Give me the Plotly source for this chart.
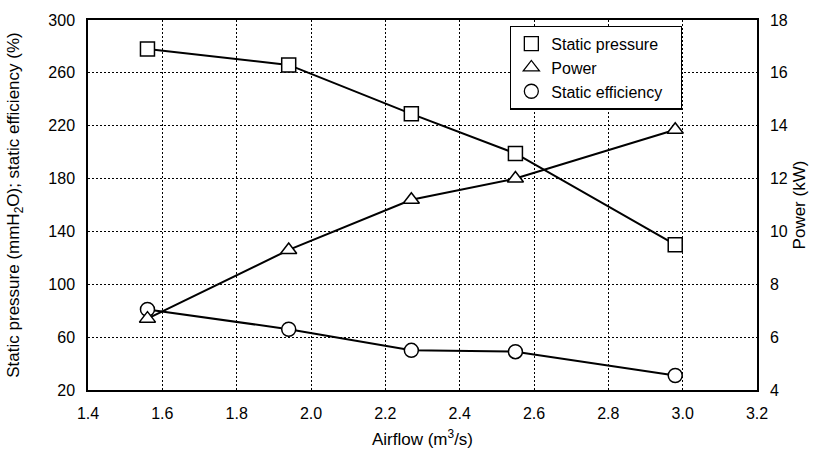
import plotly.graph_objects as go

# Fan performance curve data
airflow = [1.56, 1.94, 2.27, 2.55, 2.98]            # m3/s
static_pressure = [278, 266, 229, 199, 130]         # mmH2O
static_efficiency = [81, 66, 50, 49, 31]            # %
power_kw = [6.7, 9.3, 11.2, 12.0, 13.85]            # kW

left_ticks = [20, 60, 100, 140, 180, 220, 260, 300]
right_ticks = [4, 6, 8, 10, 12, 14, 16, 18]
x_ticks = [1.4, 1.6, 1.8, 2.0, 2.2, 2.4, 2.6, 2.8, 3.0, 3.2]

FONT = "Liberation Sans, Arial, sans-serif"
line_style = dict(color="black", width=2)


def marker(symbol):
    return dict(symbol=symbol, size=14, color="white",
                line=dict(color="black", width=1.5))


fig = go.Figure()

fig.add_trace(go.Scatter(x=airflow, y=static_pressure, mode="lines+markers",
                         line=line_style, marker=marker("square"),
                         showlegend=False))
fig.add_trace(go.Scatter(x=airflow, y=power_kw, mode="lines+markers",
                         line=line_style, marker=marker("triangle-up"),
                         yaxis="y2", showlegend=False))
fig.add_trace(go.Scatter(x=airflow, y=static_efficiency, mode="lines+markers",
                         line=line_style, marker=marker("circle"),
                         showlegend=False))

# Marker-only legend entries
for name, sym in [("Static pressure", "square"),
                  ("Power", "triangle-up"),
                  ("Static efficiency&nbsp;&nbsp;&nbsp;", "circle")]:
    fig.add_trace(go.Scatter(x=[None], y=[None], mode="markers", name=name,
                             legendgroup=name,
                             marker=dict(symbol=sym, size=14, color="white",
                                         line=dict(color="black", width=1.3))))

axis_common = dict(showline=True, linecolor="black", linewidth=1.5,
                   zeroline=False, tickfont=dict(family=FONT, size=16, color="black"),
                   ticks="outside", ticklen=8, tickcolor="rgba(0,0,0,0)")

GRID_DASH = "2px,2px"

fig.update_layout(
    width=818, height=470,
    margin=dict(l=88, r=61, t=13, b=80),
    paper_bgcolor="white", plot_bgcolor="white",
    font=dict(family=FONT, size=16, color="black"),
    xaxis=dict(range=[1.4, 3.2], tickvals=x_ticks,
               ticktext=[f"{v:.1f}" for v in x_ticks],
               mirror=True, showgrid=True, gridcolor="black", griddash=GRID_DASH,
               gridwidth=1,
               title=dict(text="Airflow (m<sup>3</sup>/s)",
                          font=dict(family=FONT, size=17), standoff=12),
               **axis_common),
    yaxis=dict(range=[20, 300], tickvals=left_ticks,
               showgrid=True, gridcolor="black", griddash=GRID_DASH, gridwidth=1,
               title=dict(text="Static pressure (mmH<sub>2</sub>O); static efficiency (%)",
                          font=dict(family=FONT, size=17), standoff=24),
               **axis_common),
    yaxis2=dict(range=[4, 18], tickvals=right_ticks, overlaying="y", side="right",
                showgrid=False,
                title=dict(text="Power (kW)", font=dict(family=FONT, size=17),
                           standoff=6),
                **axis_common),
    legend=dict(x=0.631, y=0.985, xanchor="left", yanchor="top",
                bgcolor="white", bordercolor="black", borderwidth=1.2,
                font=dict(family=FONT, size=16, color="black"),
                itemwidth=30, tracegroupgap=0),
)

fig.write_html("out.html")
